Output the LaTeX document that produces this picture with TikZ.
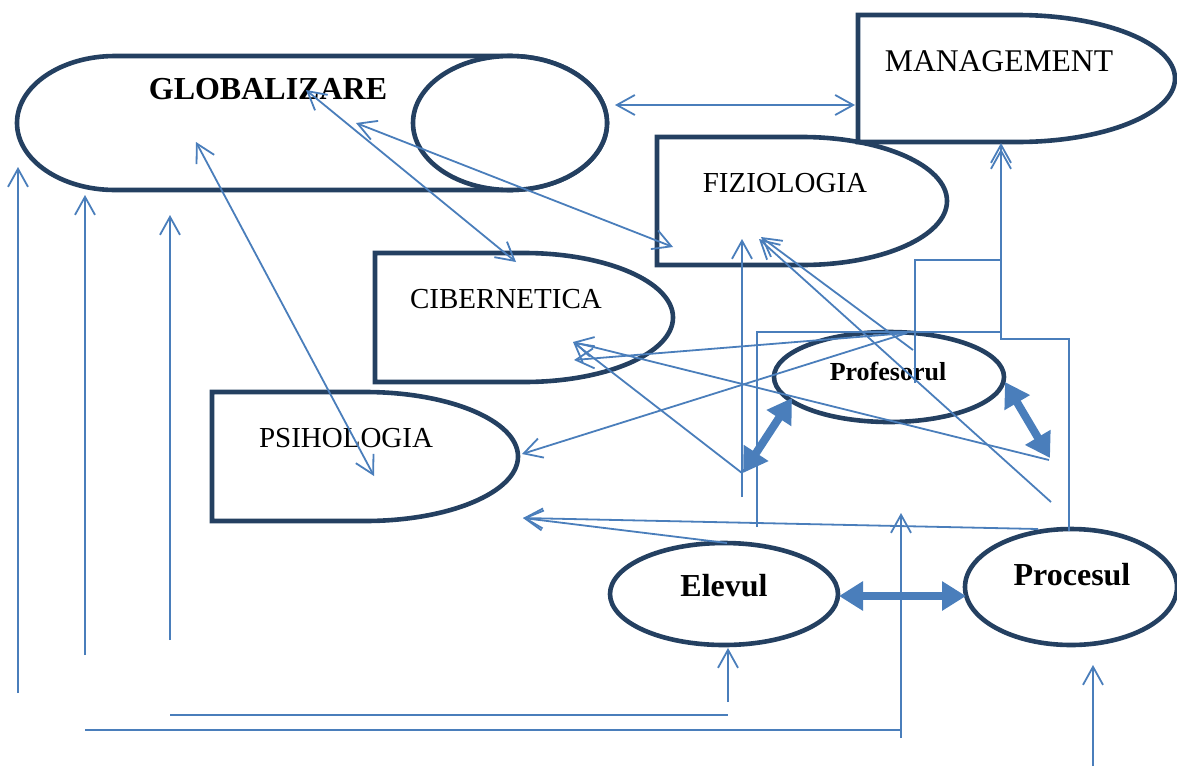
\documentclass[tikz,border=0pt]{standalone}
\usepackage{fontspec}
\setmainfont{Liberation Serif}
\usetikzlibrary{arrows.meta}

\definecolor{shapeline}{RGB}{36,64,97}
\definecolor{linkblue}{RGB}{74,126,187}

\begin{document}
\begin{tikzpicture}[x=0.5pt,y=-0.5pt,
  box/.style={draw=shapeline, line width=2.3pt, fill=white},
  link/.style={draw=linkblue, line width=0.9pt},
  fat/.style={draw=linkblue, line width=4pt,
    {Triangle[length=12pt,width=14pt]}-{Triangle[length=12pt,width=14pt]}},
  >={Straight Barb[length=9pt,width=10pt]},
  big/.style={font=\fontsize{15.8}{18}\selectfont},
  mid/.style={font=\fontsize{14.5}{17}\selectfont}]
\useasboundingbox (0,0) rectangle (1177,766);

% GLOBALIZARE, a lying can
\draw[box] (510,56) -- (115,56) arc[start angle=-90, end angle=-270, x radius=98, y radius=67]
  -- (510,190) arc[start angle=90, end angle=-90, x radius=97, y radius=67] -- cycle;
\draw[box] (510,123) ellipse[x radius=97, y radius=67];
\node[big, font=\bfseries\fontsize{16}{18}\selectfont] (glob) at (268,89) {GLOBALIZARE};

% the D shaped boxes
\draw[box] (657,137) -- (802,137) arc[start angle=-90, end angle=90, x radius=145, y radius=64] -- (657,265) -- cycle;
\node[mid] (fiz) at (785,183) {FIZIOLOGIA};
\draw[box] (858,15) -- (1017,15) arc[start angle=-90, end angle=90, x radius=158, y radius=63.5] -- (858,142) -- cycle;
\node[big] (man) at (999,61) {MANAGEMENT};
\draw[box] (375,253) -- (524,253) arc[start angle=-90, end angle=90, x radius=149, y radius=64.5] -- (375,382) -- cycle;
\node[mid] (cib) at (506,299) {CIBERNETICA};
\draw[box] (212,392) -- (365,392) arc[start angle=-90, end angle=90, x radius=153, y radius=64.5] -- (212,521) -- cycle;
\node[mid] (psi) at (346,438) {PSIHOLOGIA};

% the three actors
\draw[box] (889,377) ellipse[x radius=115, y radius=45];
\node[font=\bfseries\fontsize{13}{15}\selectfont] (prof) at (888,371) {Profesorul};
\draw[box] (724,594) ellipse[x radius=114, y radius=51];
\node[font=\bfseries\fontsize{16}{18}\selectfont] (elev) at (724,586) {Elevul};
\draw[box] (1071,587) ellipse[x radius=106, y radius=58];
\node[font=\bfseries\fontsize{16}{18}\selectfont] (proc) at (1072,575) {Procesul};

% connector ends
\coordinate (g-m) at (615,105);   \coordinate (m-g) at (855,105);
\coordinate (g-c) at (306,90);    \coordinate (c-g) at (516,262);
\coordinate (g-f) at (356,123);   \coordinate (f-g) at (673,247);
\coordinate (g-p) at (196,142);   \coordinate (p-g) at (374,476);
\coordinate (g-1) at (18,167);    \coordinate (v1) at (18,693);
\coordinate (g-2) at (85,195);    \coordinate (v2) at (85,655);
\coordinate (g-3) at (170,215);   \coordinate (v3) at (170,640);
\coordinate (h1a) at (170,715);   \coordinate (h1b) at (728,715);
\coordinate (e-foot) at (728,702); \coordinate (e-in) at (728,648);
\coordinate (h2a) at (85,730);    \coordinate (h2b) at (901,730);
\coordinate (v4) at (901,738);    \coordinate (v4-top) at (901,513);
\coordinate (pc-foot) at (1093,766); \coordinate (pc-in) at (1093,665);
\coordinate (f-foot) at (742,497); \coordinate (f-in) at (742,239);
\coordinate (f-tip) at (761,237); \coordinate (f-tip2) at (759,239);
\coordinate (k1) at (913,350);    \coordinate (k2) at (1051,502);
\coordinate (c-in) at (573,342);  \coordinate (c-in2) at (574,360);
\coordinate (t-low) at (742,473); \coordinate (t-right) at (1049,460);
\coordinate (prof-top) at (907,333);
\coordinate (p-in) at (522,454);  \coordinate (p-low) at (523,518);
\coordinate (e-top) at (727,543); \coordinate (pc-top) at (1038,529);
\coordinate (m-in) at (1001,143); \coordinate (m-in2) at (1001,149);
\coordinate (a1) at (757,527);    \coordinate (a2) at (1069,531);
\coordinate (a3) at (915,383);

% links to GLOBALIZARE
\draw[link,<->] (g-m) -- (m-g);
\draw[link,<->] (g-c) -- (c-g);
\draw[link,<->] (g-f) -- (f-g);
\draw[link,<->] (g-p) -- (p-g);
\draw[link,->] (v1) -- (g-1);
\draw[link,->] (v2) -- (g-2);
\draw[link,->] (v3) -- (g-3);

% bottom lines
\draw[link] (h1a) -- (h1b);
\draw[link,->] (e-foot) -- (e-in);
\draw[link] (h2a) -- (h2b);
\draw[link,->] (v4) -- (v4-top);
\draw[link,->] (pc-foot) -- (pc-in);

% links in the middle
\draw[link,->] (f-foot) -- (f-in);
\draw[link,->] (k1) -- (f-tip);
\draw[link,->] (k2) -- (f-tip2);
\draw[link,->] (t-low) -- (c-in);
\draw[link,->] (t-right) -- (c-in);
\draw[link,->] (prof-top) -- (c-in2);
\draw[link,->] (prof-top) -- (p-in);
\draw[link,->] (e-top) -- (p-low);
\draw[link,->] (pc-top) -- (p-low);

% up to MANAGEMENT
\draw[link,->] (a1) |- (1001,332) -- (m-in);
\draw[link,->] (a2) |- (1001,339) -- (m-in2);
\draw[link] (a3) |- (1001,260);

% thick double arrows
\draw[fat] (743,473) -- (792,398);
\draw[fat] (1005,382) -- (1050,458);
\draw[fat] (839,596) -- (966,596);
\end{tikzpicture}
\end{document}
